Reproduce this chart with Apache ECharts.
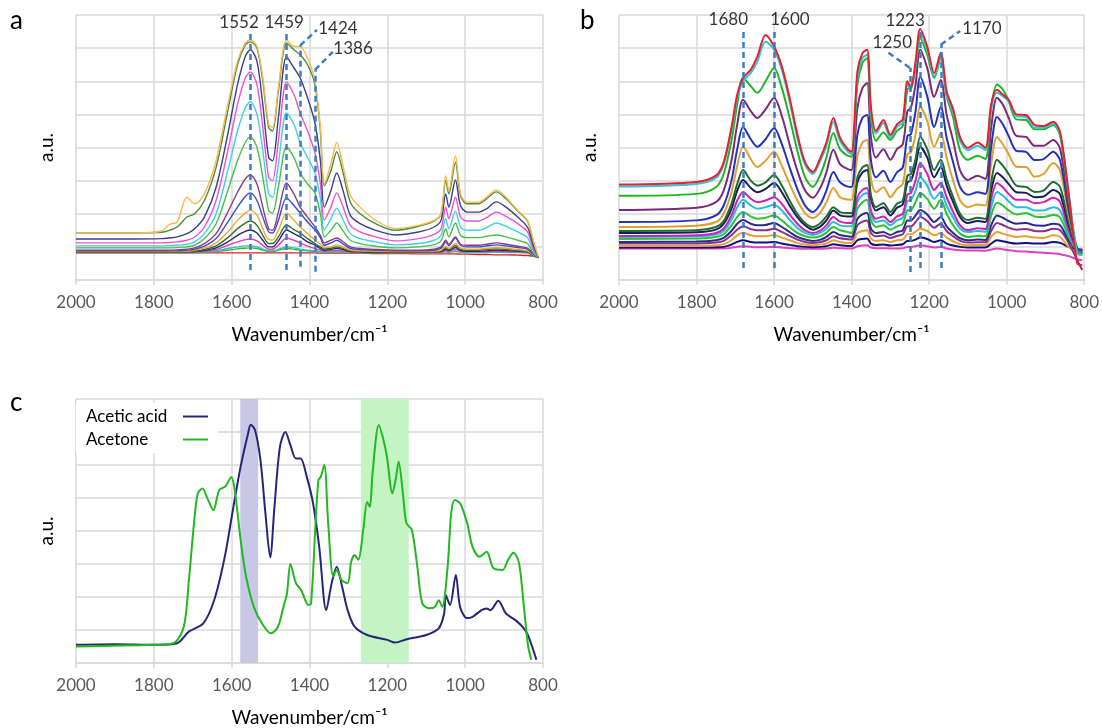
<!DOCTYPE html>
<html><head><meta charset="utf-8">
<script src="https://cdn.jsdelivr.net/npm/echarts@6/dist/echarts.min.js"></script>
<style>html,body{margin:0;padding:0;background:#fff}#c{width:1102px;height:728px}</style>
</head><body><div id="c"></div>
<script>
// ---------- Panel a data (wavenumber grid + spectra, a.u.) ----------
const WA = [2000,1850,1780,1760,1740,1715,1695,1670,1640,1610,1585,1565,1552,1535,1520,1505,1495,1480,1459,1440,1424,1405,1386,1372,1362,1345,1330,1315,1295,1270,1230,1180,1120,1080,1062,1050,1042,1025,1012,995,965,945,920,895,865,840,825,812];
const A1 = [1.42,1.42,1.48,1.68,1.75,2.5,2.3,2.6,3.6,5.3,6.6,7.15,7.25,7.05,6.1,4.7,4.6,5.8,7.25,7.05,7.05,6.7,6.0,4.6,2.9,3.5,4.15,3.5,2.55,2.2,1.8,1.55,1.65,1.8,2.0,3.15,2.7,3.75,2.6,2.35,2.35,2.5,2.72,2.5,2.1,1.8,1.2,0.7];
const A2 = [1.42,1.42,1.44,1.5,1.6,1.9,2.0,2.4,3.4,5.1,6.5,7.1,7.19,7.0,6.0,4.6,4.5,5.7,7.16,6.95,6.8,6.5,5.9,4.5,2.85,3.3,3.87,3.3,2.35,2.0,1.7,1.5,1.62,1.78,1.98,3.0,2.6,3.55,2.55,2.3,2.3,2.45,2.66,2.45,2.08,1.78,1.15,0.68];
const A3 = [1.24,1.24,1.25,1.27,1.3,1.4,1.55,1.9,2.8,4.4,5.9,6.75,6.95,6.6,5.3,3.7,3.6,4.9,6.74,6.4,6.1,5.5,4.74,3.6,2.2,2.7,3.23,2.75,1.95,1.7,1.5,1.36,1.45,1.6,1.8,2.6,2.2,3.02,2.25,2.05,2.05,2.15,2.36,2.2,1.9,1.6,1.05,0.68];
const A4 = [1.12,1.12,1.12,1.13,1.15,1.2,1.3,1.6,2.4,3.9,5.3,6.1,6.28,5.9,4.6,3.1,3.0,4.2,5.98,5.6,5.04,4.5,3.84,2.9,1.81,2.2,2.63,2.25,1.65,1.45,1.3,1.18,1.25,1.38,1.55,2.2,1.85,2.5,1.9,1.78,1.78,1.88,2.05,1.92,1.7,1.45,0.95,0.68];
const A5 = [1.03,1.03,1.03,1.04,1.05,1.08,1.15,1.4,2.0,3.3,4.5,5.2,5.38,5.0,3.9,2.6,2.5,3.5,5.04,4.7,4.14,3.7,3.23,2.45,1.51,1.85,2.17,1.85,1.4,1.25,1.15,1.06,1.1,1.2,1.35,1.85,1.55,2.08,1.6,1.5,1.5,1.58,1.72,1.62,1.45,1.28,0.88,0.68];
const A6 = [0.97,0.97,0.97,0.97,0.98,1.0,1.05,1.25,1.7,2.7,3.6,4.15,4.32,4.0,3.1,2.1,2.02,2.8,4.02,3.7,3.23,2.9,2.63,2.0,1.3,1.5,1.72,1.5,1.2,1.1,1.02,0.97,1.0,1.07,1.18,1.55,1.3,1.72,1.35,1.28,1.28,1.32,1.36,1.3,1.2,1.1,0.82,0.68];
const A7 = [0.9,0.9,0.9,0.9,0.91,0.93,0.97,1.1,1.4,2.05,2.65,3.05,3.17,2.9,2.2,1.55,1.5,2.05,2.93,2.6,2.2,1.9,1.6,1.35,1.12,1.2,1.27,1.17,1.0,0.95,0.92,0.9,0.9,0.93,1.0,1.2,1.08,1.3,1.08,1.05,1.05,1.08,1.12,1.08,1.02,0.96,0.8,0.68];
const A8 = [0.88,0.88,0.88,0.88,0.88,0.9,0.93,1.02,1.25,1.75,2.2,2.52,2.63,2.4,1.9,1.45,1.42,1.8,2.48,2.25,2.02,1.75,1.51,1.28,1.05,1.12,1.2,1.1,0.95,0.92,0.9,0.88,0.88,0.9,0.96,1.15,1.04,1.27,1.05,1.0,1.0,1.03,1.06,1.03,0.98,0.93,0.78,0.68];
const A9 = [0.86,0.86,0.86,0.86,0.86,0.87,0.9,0.96,1.12,1.45,1.8,2.02,2.11,1.95,1.55,1.22,1.21,1.5,2.02,1.8,1.6,1.4,1.21,1.08,0.98,1.0,1.06,1.0,0.9,0.88,0.87,0.86,0.86,0.87,0.9,1.02,0.95,1.1,0.96,0.93,0.93,0.95,0.98,0.96,0.92,0.88,0.76,0.68];
const A10 = [0.85,0.85,0.85,0.85,0.85,0.86,0.87,0.92,1.03,1.28,1.55,1.72,1.78,1.65,1.35,1.1,1.1,1.3,1.66,1.52,1.42,1.25,1.1,1.0,0.94,0.96,1.0,0.95,0.88,0.86,0.85,0.85,0.85,0.86,0.88,0.97,0.92,1.04,0.92,0.9,0.9,0.92,0.94,0.92,0.89,0.86,0.75,0.68];
const A11 = [0.84,0.84,0.84,0.84,0.84,0.85,0.86,0.89,0.97,1.15,1.35,1.47,1.51,1.42,1.2,1.0,1.0,1.18,1.51,1.4,1.3,1.15,1.05,0.95,0.9,0.92,0.96,0.92,0.86,0.85,0.84,0.84,0.84,0.85,0.86,0.93,0.89,0.98,0.89,0.87,0.87,0.88,0.9,0.89,0.87,0.85,0.74,0.68];
const A12 = [0.84,0.84,0.84,0.84,0.84,0.84,0.85,0.87,0.92,1.05,1.15,1.22,1.24,1.18,1.05,0.93,0.93,1.05,1.27,1.2,1.12,1.02,0.95,0.9,0.87,0.88,0.9,0.88,0.85,0.84,0.84,0.84,0.84,0.84,0.85,0.89,0.87,0.93,0.87,0.86,0.86,0.86,0.87,0.86,0.85,0.84,0.74,0.68];
const A13 = [0.83,0.83,0.83,0.83,0.83,0.83,0.84,0.85,0.88,0.95,1.0,1.03,1.03,1.0,0.93,0.88,0.88,0.93,1.0,0.97,0.93,0.9,0.88,0.86,0.85,0.85,0.86,0.85,0.84,0.83,0.83,0.83,0.83,0.83,0.84,0.86,0.85,0.88,0.85,0.84,0.84,0.84,0.85,0.84,0.84,0.83,0.73,0.68];
const A14 = [0.83,0.83,0.83,0.83,0.83,0.83,0.83,0.84,0.86,0.9,0.94,0.96,0.97,0.95,0.9,0.86,0.86,0.9,0.95,0.93,0.9,0.88,0.86,0.85,0.84,0.84,0.85,0.84,0.83,0.83,0.83,0.83,0.83,0.83,0.83,0.85,0.84,0.86,0.84,0.83,0.83,0.83,0.84,0.83,0.83,0.82,0.73,0.68];
const A15 = [0.82,0.82,0.82,0.82,0.82,0.82,0.82,0.82,0.82,0.82,0.82,0.82,0.82,0.82,0.82,0.82,0.82,0.82,0.82,0.82,0.82,0.82,0.82,0.81,0.81,0.81,0.81,0.81,0.81,0.81,0.8,0.8,0.79,0.79,0.79,0.79,0.79,0.79,0.78,0.78,0.77,0.77,0.76,0.76,0.75,0.74,0.72,0.7];

// ---------- Panel b data ----------
const WB = [2000,1800,1750,1730,1710,1695,1680,1660,1643,1622,1600,1580,1560,1540,1520,1500,1480,1465,1447,1430,1410,1400,1385,1372,1360,1350,1337,1318,1300,1283,1268,1256,1247,1235,1223,1205,1187,1170,1155,1138,1120,1100,1075,1055,1040,1025,1010,995,975,950,928,905,880,862,840,818,805];
const B1 = [2.88,2.96,3.15,3.55,4.6,5.6,6.1,6.35,6.75,7.4,7.05,6.45,5.5,4.4,3.55,3.26,3.7,4.15,4.89,4.3,3.95,3.87,6.3,6.85,6.95,5.2,4.5,4.83,4.38,4.7,4.85,6.0,5.8,6.6,7.58,7.05,6.25,6.86,5.7,5.15,4.3,3.99,4.15,3.99,5.3,5.74,5.6,5.45,5.0,4.98,4.68,4.65,4.78,4.45,2.6,0.5,0.45];
const B2 = [2.82,2.9,3.08,3.5,4.5,5.5,6.0,6.25,6.6,7.2,6.95,6.35,5.4,4.3,3.48,3.2,3.62,4.05,4.78,4.2,3.88,3.8,6.1,6.7,6.8,5.1,4.42,4.75,4.3,4.62,4.75,5.9,5.75,6.5,7.45,6.95,6.15,6.75,5.6,5.05,4.2,3.92,4.05,3.92,5.2,5.65,5.55,5.4,4.95,4.92,4.6,4.6,4.72,4.4,2.6,0.8,0.75];
const B3 = [2.54,2.6,2.8,3.2,4.2,5.3,6.1,5.85,5.65,6.0,6.4,5.8,4.9,3.9,3.1,2.81,3.2,3.7,4.44,3.95,3.75,3.72,5.9,6.55,6.7,4.9,4.2,4.45,4.23,4.5,4.65,5.75,5.85,6.4,7.3,6.8,6.1,6.7,5.55,4.9,3.9,3.63,3.75,3.65,5.2,5.9,5.75,5.4,4.85,4.83,4.55,4.55,4.68,4.35,2.5,0.85,0.8];
const B4 = [2.11,2.18,2.35,2.7,3.6,4.7,5.44,5.1,4.89,5.15,5.5,4.95,4.1,3.3,2.7,2.48,2.8,3.25,3.93,3.5,3.35,3.32,5.2,5.8,5.95,4.3,3.7,3.95,3.63,3.95,4.1,5.1,5.2,5.9,6.95,6.4,5.53,6.04,5.0,4.2,3.3,3.02,3.15,3.05,4.6,5.5,5.3,4.9,4.35,4.32,4.05,4.05,4.23,3.95,2.3,0.85,0.8];
const B5 = [1.75,1.8,1.95,2.25,3.0,3.95,4.62,4.25,4.02,4.25,4.59,4.1,3.4,2.75,2.25,2.05,2.3,2.7,3.26,2.95,2.82,2.81,4.4,4.9,4.98,3.6,3.1,3.3,2.96,3.25,3.4,4.35,4.4,5.1,6.13,5.55,4.62,5.23,4.3,3.55,2.8,2.57,2.65,2.6,4.0,4.92,4.7,4.35,3.9,3.87,3.62,3.65,3.87,3.6,2.1,0.95,0.9];
const B6 = [1.6,1.64,1.75,2.0,2.65,3.45,4.02,3.65,3.41,3.6,3.87,3.45,2.9,2.4,2.02,1.87,2.05,2.35,2.78,2.5,2.43,2.42,3.75,4.15,4.23,3.05,2.65,2.8,2.5,2.75,2.9,3.8,3.85,4.4,5.23,4.8,4.02,4.44,3.7,3.0,2.4,2.2,2.28,2.25,3.5,4.32,4.1,3.8,3.42,3.41,3.12,3.2,3.53,3.3,1.95,0.95,0.9];
const B7 = [1.48,1.5,1.6,1.78,2.3,2.9,3.32,3.0,2.85,2.95,3.17,2.85,2.4,2.0,1.72,1.6,1.72,1.92,2.2,2.05,2.02,2.02,3.1,3.4,3.47,2.55,2.2,2.32,2.05,2.3,2.4,3.15,3.2,3.65,4.32,3.95,3.32,3.63,3.05,2.5,2.0,1.81,1.88,1.85,2.95,3.63,3.45,3.2,2.85,2.81,2.66,2.7,2.96,2.8,1.75,0.95,0.9];
const B8 = [1.42,1.44,1.52,1.7,2.15,2.7,3.02,2.78,2.65,2.75,2.93,2.65,2.25,1.9,1.65,1.52,1.62,1.8,2.1,1.95,1.92,1.92,2.95,3.25,3.32,2.45,2.1,2.2,1.95,2.18,2.28,2.95,3.0,3.45,4.02,3.7,3.1,3.41,2.85,2.35,1.9,1.72,1.78,1.75,2.7,3.23,3.1,2.9,2.65,2.63,2.5,2.52,2.72,2.58,1.65,0.95,0.9];
const B9 = [1.33,1.35,1.42,1.55,1.95,2.4,2.66,2.45,2.35,2.4,2.5,2.3,1.98,1.7,1.5,1.42,1.5,1.65,1.9,1.76,1.72,1.72,2.5,2.72,2.78,2.1,1.85,1.92,1.75,1.92,2.0,2.58,2.63,3.0,3.53,3.2,2.72,2.93,2.5,2.05,1.65,1.51,1.56,1.54,2.45,2.93,2.8,2.6,2.42,2.42,2.32,2.35,2.48,2.35,1.5,0.9,0.85];
const B10 = [1.3,1.31,1.37,1.48,1.82,2.2,2.42,2.25,2.15,2.2,2.27,2.1,1.82,1.58,1.42,1.36,1.43,1.55,1.75,1.65,1.62,1.62,2.35,2.57,2.63,1.98,1.75,1.8,1.65,1.8,1.88,2.38,2.42,2.7,3.11,2.85,2.45,2.66,2.25,1.88,1.55,1.45,1.48,1.46,2.2,2.66,2.55,2.38,2.2,2.2,2.1,2.1,2.2,2.1,1.4,0.88,0.82];
const B11 = [1.24,1.25,1.3,1.38,1.65,1.9,2.05,1.92,1.85,1.88,1.95,1.8,1.6,1.42,1.32,1.28,1.33,1.43,1.6,1.5,1.45,1.42,2.15,2.35,2.42,1.8,1.6,1.65,1.52,1.62,1.7,2.1,2.11,2.35,2.63,2.45,2.15,2.42,2.0,1.65,1.4,1.3,1.33,1.32,1.95,2.33,2.25,2.1,1.98,2.02,1.92,1.9,1.96,1.88,1.3,0.88,0.82];
const B12 = [1.15,1.16,1.2,1.27,1.48,1.7,1.81,1.7,1.65,1.66,1.72,1.6,1.45,1.3,1.22,1.18,1.22,1.3,1.45,1.36,1.32,1.3,1.85,1.98,2.02,1.55,1.42,1.45,1.36,1.45,1.5,1.8,1.8,1.95,2.11,1.98,1.75,1.9,1.62,1.42,1.26,1.2,1.22,1.21,1.65,1.95,1.88,1.78,1.7,1.72,1.65,1.64,1.7,1.65,1.2,0.88,0.82];
const B13 = [1.1,1.1,1.13,1.18,1.35,1.52,1.62,1.54,1.5,1.5,1.55,1.45,1.33,1.22,1.15,1.12,1.15,1.2,1.32,1.26,1.23,1.22,1.65,1.76,1.8,1.42,1.32,1.34,1.27,1.33,1.38,1.62,1.62,1.75,1.9,1.78,1.58,1.7,1.48,1.32,1.18,1.13,1.14,1.14,1.48,1.72,1.66,1.58,1.52,1.54,1.48,1.47,1.55,1.5,1.12,0.6,0.3];
const B14 = [1.03,1.03,1.05,1.08,1.2,1.35,1.42,1.35,1.32,1.32,1.36,1.28,1.2,1.12,1.07,1.05,1.07,1.1,1.2,1.15,1.12,1.12,1.42,1.48,1.5,1.25,1.18,1.2,1.15,1.2,1.22,1.38,1.38,1.46,1.55,1.48,1.35,1.42,1.28,1.17,1.08,1.05,1.06,1.06,1.3,1.45,1.4,1.35,1.3,1.32,1.28,1.27,1.35,1.3,1.0,0.82,0.75];
const B15 = [0.98,0.98,0.99,1.0,1.07,1.15,1.2,1.15,1.13,1.13,1.15,1.1,1.06,1.02,1.0,0.99,1.0,1.02,1.08,1.05,1.03,1.03,1.2,1.24,1.25,1.1,1.06,1.07,1.04,1.06,1.08,1.18,1.18,1.22,1.28,1.24,1.15,1.2,1.1,1.04,1.0,0.98,0.98,0.98,1.1,1.2,1.17,1.13,1.1,1.12,1.1,1.1,1.15,1.12,1.0,0.92,0.92];
const B16 = [0.95,0.95,0.95,0.95,0.97,1.0,1.02,1.0,0.99,0.99,1.0,0.98,0.96,0.95,0.94,0.94,0.94,0.95,0.97,0.96,0.95,0.95,1.02,1.04,1.05,0.98,0.96,0.96,0.95,0.95,0.96,1.0,1.0,1.02,1.05,1.02,0.98,1.0,0.95,0.92,0.9,0.89,0.89,0.88,0.92,0.95,0.93,0.9,0.87,0.86,0.84,0.82,0.8,0.78,0.72,0.62,0.6];

// ---------- Panel c data ----------
const ACID_W = [2000,1900,1800,1740,1710,1673,1645,1618,1597,1577,1558,1551,1540,1526,1513,1501,1490,1476,1462,1449,1435,1423,1407,1391,1375,1357,1343,1330,1316,1302,1284,1252,1200,1180,1150,1100,1068,1054,1050,1039,1024,1013,995,981,958,945,935,915,895,871,853,839,817];
const ACID   = [0.55,0.57,0.55,0.6,0.95,1.2,1.9,3.2,4.63,5.95,6.95,7.22,7.06,6.15,4.5,3.2,4.74,6.55,7.0,6.6,6.2,6.2,5.64,4.85,3.52,1.6,2.42,2.92,2.3,1.6,1.1,0.85,0.7,0.62,0.72,0.85,1.05,1.5,2.06,1.76,2.67,1.7,1.36,1.4,1.6,1.65,1.6,1.89,1.5,1.3,1.1,0.85,0.1];
const ACETONE_W = [2000,1800,1750,1723,1710,1696,1687,1675,1662,1647,1632,1616,1601,1592,1577,1563,1543,1522,1499,1481,1467,1458,1449,1435,1421,1403,1396,1384,1377,1371,1362,1352,1339,1330,1318,1302,1293,1284,1275,1261,1252,1245,1238,1222,1210,1201,1187,1178,1171,1160,1151,1137,1123,1110,1091,1078,1068,1059,1045,1036,1027,1013,995,981,963,945,927,904,890,876,862,849,838,830];
const ACETONE   = [0.5,0.55,0.6,1.1,2.5,4.33,5.14,5.29,4.98,4.63,5.24,5.35,5.64,5.24,3.73,2.62,1.7,1.2,0.9,1.1,1.7,2.1,3.0,2.42,2.2,1.76,1.8,4.33,5.55,5.64,6.0,4.24,2.62,2.82,2.52,2.42,3.06,3.27,3.13,4.12,4.88,4.73,5.75,7.21,6.76,6.25,5.14,5.6,6.1,5.14,4.24,4.03,2.92,1.8,1.66,1.7,1.9,1.7,2.92,4.53,4.94,4.84,4.24,3.52,3.22,3.37,2.87,2.82,3.12,3.34,3.05,1.7,0.5,0.1];
const SERIES_C = ['Acetic acid', 'Acetone'];

// ---------- annotations ----------
const PEAKS_A = ['1552','1459','1424','1386'];
const PEAKS_B = ['1680','1600','1250','1223','1170'];
const BANDS_C = [[1578,1532],[1268,1145]];
const X_MIN = 800, X_MAX = 2000, X_STEP = 200;

// ---------- styles ----------
const COLORS_A = ['#f7b94c','#4f8a3c','#3c3c90','#ee52d2','#40d0e6','#48c048','#8a3c8a','#3b4dc2','#f0a830','#2f6f2f','#2a2a6a','#e040c0','#30c0c8','#40b040','#e02020'];
const COLORS_B = ['#e8202a','#2cc6e0','#22b422','#7a2a7a','#2233bb','#e0a030','#1e6e2e','#1c1c5c','#d020b8','#20c0d8','#30c030','#2a2a8a','#8a3090','#e8a030','#101080','#e040c0'];
const DASH = '#3f7bc4';
const FONT = 'Lato, "Open Sans", sans-serif';

const zip = (w, v) => w.map((x, i) => [x, v[i]]);
const SA = [A1,A2,A3,A4,A5,A6,A7,A8,A9,A10,A11,A12,A13,A14,A15];
const SB = [B1,B2,B3,B4,B5,B6,B7,B8,B9,B10,B11,B12,B13,B14,B15,B16];

const grids = [
  {left: 76, top: 15, width: 467, height: 265},
  {left: 619, top: 15, width: 468, height: 265},
  {left: 76, top: 399, width: 467, height: 264}
];
const xAxes = grids.map((g, i) => ({
  type: 'value', gridIndex: i, inverse: true, min: X_MIN, max: X_MAX, interval: X_STEP,
  axisLine: {lineStyle: {color: '#d9d9d9', width: 1.5}},
  axisTick: {show: true, length: 5, lineStyle: {color: '#d9d9d9', width: 1.5}},
  axisLabel: {color: '#595959', fontSize: 17, margin: 14, fontFamily: FONT, formatter: v => String(v)},
  splitLine: {show: true, lineStyle: {color: '#d9d9d9', width: 1.5}},
  name: 'Wavenumber/cm⁻¹', nameLocation: 'middle', nameGap: 45,
  nameTextStyle: {color: '#000', fontSize: 19, fontFamily: FONT}
}));
const yAxes = grids.map((g, i) => ({
  type: 'value', gridIndex: i, min: 0, max: 8, interval: 1,
  axisLine: {show: false}, axisTick: {show: false}, axisLabel: {show: false},
  splitLine: {show: true, lineStyle: {color: '#d9d9d9', width: 1.5}},
  name: 'a.u.', nameLocation: 'middle', nameGap: 20, nameRotate: 90,
  nameTextStyle: {color: '#000', fontSize: 19, fontFamily: FONT}
}));

const series = [];
for (let i = SA.length - 1; i >= 0; i--) {
  series.push({type: 'line', name: 'a' + (i + 1), xAxisIndex: 0, yAxisIndex: 0, data: zip(WA, SA[i]),
    symbol: 'none', smooth: 0.3, lineStyle: {width: 1.4, color: COLORS_A[i]}, itemStyle: {color: COLORS_A[i]}, z: 2});
}
for (let i = SB.length - 1; i >= 0; i--) {
  series.push({type: 'line', name: 'b' + (i + 1), xAxisIndex: 1, yAxisIndex: 1, data: zip(WB, SB[i]),
    symbol: 'none', smooth: 0.3, lineStyle: {width: 2, color: COLORS_B[i]}, itemStyle: {color: COLORS_B[i]}, z: 2});
}
const dashStyle = {color: DASH, width: 2.5, type: [6, 4]};
const seg = (x1, y1, x2, y2) => [{coord: [x1, y1]}, {coord: [x2, y2]}];
series.push({type: 'line', name: 'peaksA', xAxisIndex: 0, yAxisIndex: 0, data: [], z: 5,
  markLine: {silent: true, symbol: ['none', 'none'], label: {show: false}, lineStyle: dashStyle, animation: false,
    data: [seg(+PEAKS_A[0], 0.3, +PEAKS_A[0], 7.5), seg(+PEAKS_A[1], 0.3, +PEAKS_A[1], 7.5),
           seg(+PEAKS_A[2], 0.4, +PEAKS_A[2], 7.08), seg(+PEAKS_A[3], 0.25, +PEAKS_A[3], 6.34),
           seg(+PEAKS_A[2], 7.08, 1381, 7.55), seg(+PEAKS_A[3], 6.34, 1340, 6.89)]}});
series.push({type: 'scatter', name: 'labelsA', xAxisIndex: 0, yAxisIndex: 0, symbolSize: 0, z: 6, silent: true,
  label: {show: true, position: 'inside', formatter: '{b}', color: '#000', fontSize: 17, fontFamily: FONT},
  data: [{name: PEAKS_A[0], value: [1581, 7.76]}, {name: PEAKS_A[1], value: [1465, 7.76]},
         {name: PEAKS_A[2], value: [1327, 7.58]}, {name: PEAKS_A[3], value: [1288, 7.0]}]});
series.push({type: 'line', name: 'peaksB', xAxisIndex: 1, yAxisIndex: 1, data: [], z: 5,
  markLine: {silent: true, symbol: ['none', 'none'], label: {show: false}, lineStyle: dashStyle, animation: false,
    data: [seg(+PEAKS_B[0], 0.36, +PEAKS_B[0], 7.6), seg(+PEAKS_B[1], 0.36, +PEAKS_B[1], 7.55),
           seg(+PEAKS_B[2], 0.24, +PEAKS_B[2], 6.41), seg(+PEAKS_B[3], 0.36, +PEAKS_B[3], 7.5),
           seg(+PEAKS_B[4], 0.36, +PEAKS_B[4], 7.1),
           seg(+PEAKS_B[2], 6.41, 1305, 6.86), seg(+PEAKS_B[4], 7.1, 1120, 7.52)]}});
series.push({type: 'scatter', name: 'labelsB', xAxisIndex: 1, yAxisIndex: 1, symbolSize: 0, z: 6, silent: true,
  label: {show: true, position: 'inside', formatter: '{b}', color: '#000', fontSize: 17, fontFamily: FONT},
  data: [{name: PEAKS_B[0], value: [1718, 7.85]}, {name: PEAKS_B[1], value: [1559, 7.85]},
         {name: PEAKS_B[2], value: [1295, 7.16]}, {name: PEAKS_B[3], value: [1262, 7.82]},
         {name: PEAKS_B[4], value: [1064, 7.6]}]});
series.push({type: 'line', name: 'bands', xAxisIndex: 2, yAxisIndex: 2, data: [], z: 1,
  markArea: {silent: true, animation: false, data: [
    [{xAxis: BANDS_C[0][0], itemStyle: {color: '#c8c8e6'}}, {xAxis: BANDS_C[0][1]}],
    [{xAxis: BANDS_C[1][0], itemStyle: {color: '#c4f4c4'}}, {xAxis: BANDS_C[1][1]}]]}});
series.push({type: 'line', name: SERIES_C[0], xAxisIndex: 2, yAxisIndex: 2, data: zip(ACID_W, ACID),
  symbol: 'none', smooth: 0.3, lineStyle: {width: 2, color: '#262678'}, itemStyle: {color: '#262678'}, z: 3});
series.push({type: 'line', name: SERIES_C[1], xAxisIndex: 2, yAxisIndex: 2, data: zip(ACETONE_W, ACETONE),
  symbol: 'none', smooth: 0.3, lineStyle: {width: 2, color: '#22b822'}, itemStyle: {color: '#22b822'}, z: 3});

const chart = echarts.init(document.getElementById('c'), null, {renderer: 'canvas'});
chart.setOption({
  animation: false,
  backgroundColor: '#fff',
  grid: grids,
  xAxis: xAxes,
  yAxis: yAxes,
  legend: {
    data: SERIES_C.map(n => ({name: n, icon: 'rect'})), orient: 'vertical', align: 'right', left: 76, top: 403,
    itemWidth: 25, itemHeight: 2, itemGap: 6, backgroundColor: '#fff', padding: [5, 10, 5, 10],
    formatter: '{n|{name}}',
    textStyle: {color: '#000', fontSize: 17, fontFamily: FONT, rich: {n: {width: 92, align: 'left', fontSize: 17, fontFamily: FONT}}}
  },
  graphic: [
    {type: 'text', left: 10, top: 8, style: {text: 'a', fontSize: 26, fontFamily: FONT, fill: '#000'}},
    {type: 'text', left: 580, top: 8, style: {text: 'b', fontSize: 26, fontFamily: FONT, fill: '#000'}},
    {type: 'text', left: 10, top: 390, style: {text: 'c', fontSize: 26, fontFamily: FONT, fill: '#000'}}
  ],
  series: series
});
</script></body></html>
